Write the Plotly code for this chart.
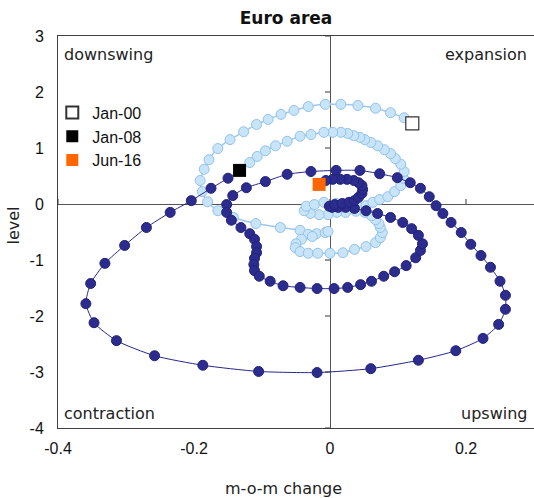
import plotly.graph_objects as go

# Business-cycle clock for the euro area: month-on-month change (x) vs level (y)

# Jan-2000 .. Jan-2008
cycle1_change = [0.121, 0.109, 0.089, 0.067, 0.041, 0.016, -0.007, -0.032, -0.053, -0.072,
                 -0.091, -0.108, -0.127, -0.147, -0.165, -0.178, -0.185, -0.191, -0.188, -0.180,
                 -0.165, -0.142, -0.109, -0.073, -0.044, -0.032, -0.020, -0.007, -0.003, -0.026,
                 -0.042, -0.050, -0.051, -0.044, -0.032, -0.018, 0.000, 0.019, 0.036, 0.053,
                 0.067, 0.074, 0.077, 0.074, 0.072, 0.067, 0.061, 0.051, 0.038, 0.023,
                 0.010, -0.003, -0.016, -0.029, -0.038, -0.035, -0.023, -0.009, 0.009, 0.026,
                 0.041, 0.053, 0.063, 0.073, 0.085, 0.095, 0.104, 0.108, 0.109, 0.104,
                 0.096, 0.089, 0.080, 0.070, 0.060, 0.051, 0.044, 0.035, 0.026, 0.016,
                 0.004, -0.009, -0.028, -0.044, -0.063, -0.080, -0.095, -0.107, -0.118, -0.133]
cycle1_level = [1.44, 1.54, 1.63, 1.71, 1.76, 1.78, 1.78, 1.74, 1.67, 1.60,
                1.51, 1.42, 1.29, 1.15, 0.99, 0.79, 0.62, 0.42, 0.22, 0.04,
                -0.12, -0.24, -0.35, -0.42, -0.47, -0.54, -0.53, -0.51, -0.49, -0.58,
                -0.63, -0.71, -0.78, -0.85, -0.88, -0.88, -0.88, -0.87, -0.81, -0.76,
                -0.69, -0.60, -0.51, -0.42, -0.35, -0.28, -0.21, -0.15, -0.13, -0.15,
                -0.15, -0.19, -0.19, -0.17, -0.12, -0.04, -0.01, 0.03, 0.01, -0.03,
                -0.04, -0.03, 0.03, 0.08, 0.13, 0.22, 0.33, 0.46, 0.58, 0.71,
                0.81, 0.90, 0.97, 1.04, 1.10, 1.15, 1.19, 1.22, 1.26, 1.28,
                1.28, 1.28, 1.24, 1.21, 1.12, 1.04, 0.95, 0.85, 0.74, 0.60]

# Jan-2008 .. Jun-2016
cycle2_change = [-0.133, -0.150, -0.175, -0.204, -0.235, -0.270, -0.302, -0.331, -0.352, -0.359,
                 -0.347, -0.314, -0.258, -0.187, -0.105, -0.019, 0.060, 0.130, 0.185, 0.225,
                 0.248, 0.258, 0.258, 0.250, 0.236, 0.222, 0.207, 0.193, 0.178, 0.166,
                 0.156, 0.146, 0.133, 0.118, 0.099, 0.073, 0.044, 0.009, -0.028, -0.063,
                 -0.095, -0.123, -0.143, -0.152, -0.152, -0.145, -0.131, -0.118, -0.111, -0.108,
                 -0.108, -0.111, -0.112, -0.111, -0.104, -0.088, -0.069, -0.044, -0.019, 0.006,
                 0.026, 0.045, 0.061, 0.079, 0.095, 0.112, 0.126, 0.133, 0.136, 0.130,
                 0.120, 0.107, 0.089, 0.070, 0.053, 0.036, 0.023, 0.012, 0.003, -0.001,
                 0.007, 0.018, 0.028, 0.036, 0.042, 0.047, 0.048, 0.047, 0.042, 0.035,
                 0.025, 0.015, 0.004, -0.006, -0.016]
cycle2_level = [0.60, 0.46, 0.28, 0.06, -0.15, -0.42, -0.74, -1.06, -1.42, -1.78,
                -2.12, -2.44, -2.71, -2.88, -2.99, -3.01, -2.94, -2.79, -2.62, -2.40,
                -2.15, -1.88, -1.63, -1.38, -1.13, -0.92, -0.72, -0.51, -0.33, -0.17,
                -0.03, 0.13, 0.28, 0.38, 0.47, 0.54, 0.60, 0.60, 0.58, 0.53,
                0.40, 0.29, 0.15, -0.01, -0.15, -0.29, -0.42, -0.53, -0.63, -0.76,
                -0.87, -0.97, -1.08, -1.19, -1.29, -1.38, -1.46, -1.49, -1.51, -1.51,
                -1.49, -1.44, -1.38, -1.29, -1.21, -1.10, -0.96, -0.83, -0.71, -0.56,
                -0.44, -0.33, -0.24, -0.17, -0.12, -0.08, -0.06, -0.06, -0.06, -0.04,
                -0.01, 0.01, 0.03, 0.06, 0.12, 0.19, 0.26, 0.33, 0.38, 0.42,
                0.44, 0.44, 0.44, 0.42, 0.35]

marker_labels = ["Jan-00", "Jan-08", "Jun-16"]
quadrant_labels = ["downswing", "expansion", "contraction", "upswing"]

x_ticks = [-0.4, -0.2, 0, 0.2]
x_tick_labels = ["-0.4", "-0.2", "0", "0.2"]
y_ticks = [-4, -3, -2, -1, 0, 1, 2, 3]
y_tick_labels = ["-4", "-3", "-2", "-1", "0", "1", "2", "3"]

X_RANGE = [-0.4, 0.3]
Y_RANGE = [-4, 3]

LIGHT_FILL, LIGHT_EDGE, LIGHT_LINE = "#c8e4f9", "#92c2ea", "#9fc9ee"
DARK_FILL, DARK_EDGE, DARK_LINE = "#2b2c8e", "#212277", "#26278a"
AXIS_GREY = "#555555"
ARIAL = "Liberation Sans, Arial, sans-serif"
GOTHIC = "DejaVu Sans, sans-serif"

fig = go.Figure()

fig.add_trace(go.Scatter(
    x=cycle1_change, y=cycle1_level, mode="lines+markers", showlegend=False,
    line=dict(color=LIGHT_LINE, width=1.5, shape="spline", smoothing=0.6),
    marker=dict(size=10, color=LIGHT_FILL, line=dict(color=LIGHT_EDGE, width=1)),
    hoverinfo="skip",
))
fig.add_trace(go.Scatter(
    x=cycle2_change, y=cycle2_level, mode="lines+markers", showlegend=False,
    line=dict(color=DARK_LINE, width=1, shape="spline", smoothing=0.6),
    marker=dict(size=10, color=DARK_FILL, line=dict(color=DARK_EDGE, width=1)),
    hoverinfo="skip",
))

# Start / turning / end months as squares
endpoints = [
    (marker_labels[0], cycle1_change[0], cycle1_level[0], "white", "#333333", 1.2),
    (marker_labels[1], cycle1_change[-1], cycle1_level[-1], "black", "black", 0),
    (marker_labels[2], cycle2_change[-1], cycle2_level[-1], "#ff6600", "#ff6600", 0),
]
for i, (name, xv, yv, fill, edge, lw) in enumerate(endpoints):
    fig.add_trace(go.Scatter(
        x=[xv], y=[yv], mode="markers", name=name, legendgroup=f"g{i}",
        marker=dict(symbol="square", size=13, color=fill, line=dict(color=edge, width=lw)),
    ))

axis_font = dict(family=ARIAL, size=16, color="#111111")

fig.update_layout(
    width=534, height=498,
    margin=dict(l=58, r=0, t=36, b=70),
    paper_bgcolor="white", plot_bgcolor="white",
    title=dict(text="<b>Euro area</b>", x=286 / 534, xanchor="center",
               y=1 - 18 / 498, yanchor="middle",
               font=dict(family=GOTHIC, size=17, color="#111111")),
    legend=dict(x=-0.012, y=0.848, xanchor="left", yanchor="top",
                bgcolor="rgba(0,0,0,0)", font=axis_font,
                itemsizing="constant", tracegroupgap=0),
    xaxis=dict(range=X_RANGE, tickvals=x_ticks, ticktext=x_tick_labels,
               showgrid=False, zeroline=True, zerolinecolor=AXIS_GREY, zerolinewidth=1.2,
               showline=True, mirror=True,
               linecolor="#404040", linewidth=1, ticks="",
               tickfont=axis_font, ticklabelstandoff=6),
    yaxis=dict(range=Y_RANGE, tickvals=y_ticks, ticktext=y_tick_labels,
               showgrid=False, zeroline=True, zerolinecolor=AXIS_GREY, zerolinewidth=1.2,
               showline=True,
               linecolor="#404040", linewidth=1, ticks="",
               tickfont=axis_font, ticklabelstandoff=10),
)

# Tick marks along the axes that cross at the origin
for xv in x_ticks:
    fig.add_shape(type="line", xref="x", yref="y", ysizemode="pixel", yanchor=0,
                  x0=xv, x1=xv, y0=0, y1=5, layer="below",
                  line=dict(color=AXIS_GREY, width=1.2))
for yv in y_ticks:
    fig.add_shape(type="line", xref="x", yref="y", xsizemode="pixel", xanchor=0,
                  x0=-5, x1=0, y0=yv, y1=yv, layer="below",
                  line=dict(color=AXIS_GREY, width=1.2))

label_font = dict(family=GOTHIC, size=16, color="#222222")
for text, xp, yp, xa in [
    (quadrant_labels[0], 0.008, 0.952, "left"),
    (quadrant_labels[1], 0.99, 0.952, "right"),
    (quadrant_labels[2], 0.008, 0.038, "left"),
    (quadrant_labels[3], 0.99, 0.038, "right"),
]:
    fig.add_annotation(text=text, x=xp, y=yp, xref="paper", yref="paper",
                       xanchor=xa, yanchor="middle", showarrow=False, font=label_font)

fig.add_annotation(text="m-o-m change", x=(283 - 58) / 476, y=(428 - 488) / 392,
                   xref="paper", yref="paper", xanchor="center", yanchor="middle",
                   showarrow=False, font=label_font)
fig.add_annotation(text="level", x=(12.5 - 58) / 476, y=(428 - 226) / 392,
                   xref="paper", yref="paper", xanchor="center", yanchor="middle",
                   textangle=-90, showarrow=False, font=label_font)

fig.write_html("out.html")
